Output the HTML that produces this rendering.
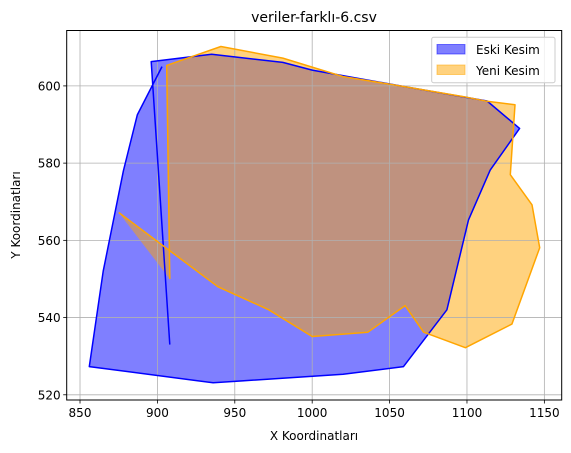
<!DOCTYPE html>
<html><head><meta charset="utf-8"><style>
body{margin:0;background:#fff;}
svg{display:block;font-family:"DejaVu Sans","Liberation Sans",sans-serif;}
</style></head><body>
<svg id="chart" width="571" height="453" viewBox="0 0 571 453" xmlns="http://www.w3.org/2000/svg">
<rect width="571" height="453" fill="#fff"/>
<g id="fills"></g>
<g id="grid"></g>
<g id="plot"></g>
<rect x="66.7" y="30.5" width="495" height="369.5" fill="none" stroke="#000" stroke-width="1"/>
<g id="ticks" font-size="12" fill="#000"></g>
<text x="314" y="22" text-anchor="middle" font-size="14">veriler-farklı-6.csv</text>
<text x="314" y="440" text-anchor="middle" font-size="12">X Koordinatları</text>
<text transform="translate(20,215) rotate(-90)" text-anchor="middle" font-size="12">Y Koordinatları</text>
<g>
<rect x="431.7" y="37.3" width="123.3" height="45.4" rx="2" fill="#fff" fill-opacity="0.8" stroke="#ccc"/>
<rect x="437" y="44.5" width="28" height="9.5" fill="blue" fill-opacity="0.5" stroke="blue" stroke-opacity="0.5"/>
<text x="476" y="54" font-size="12">Eski Kesim</text>
<rect x="437" y="65" width="28" height="9.5" fill="orange" fill-opacity="0.5" stroke="orange" stroke-opacity="0.5"/>
<text x="476" y="75" font-size="12">Yeni Kesim</text>
</g>
</svg>
<script>
const eskiX=[903,887,878,865,856,936,1020,1059,1087,1101,1115,1134,1113,1060,1022,1000,981,935,896,908];
const eskiY=[605,592.5,578,552,527.3,523.1,525.3,527.3,542,565.3,578.2,589,596.1,599.8,602.5,604.1,606.1,608.2,606.3,533];
const yeniX=[908,906,941,981,1020,1060,1098,1113,1131,1128,1142,1147,1129,1099,1072,1060,1036,1000,972,939,875];
const yeniY=[550,605.3,610.2,607.2,602.4,599.8,597.2,596,595.1,577,569.2,558.1,538.3,532.2,536.2,543.1,536.2,535.1,542,548,567.2];
const xTicks=[850,900,950,1000,1050,1100,1150];
const yTicks=[520,540,560,580,600];
const X0=841.4,X1=1161.2,Y0=518.65,Y1=614.35;
const PL=66.7,PR=561.7,PT=30.5,PB=400;
function sx(v){return PL+(v-X0)/(X1-X0)*(PR-PL);}
function sy(v){return PB-(v-Y0)/(Y1-Y0)*(PB-PT);}
const NS="http://www.w3.org/2000/svg";
const grid=document.getElementById('grid'),plot=document.getElementById('plot'),ticks=document.getElementById('ticks'),fills=document.getElementById('fills');
function mk(t,a,p){const e=document.createElementNS(NS,t);for(const k in a)e.setAttribute(k,a[k]);p.appendChild(e);return e;}
xTicks.forEach(v=>{const x=sx(v);
 const g=mk('line',{x1:x,x2:x,y1:PT,y2:PB,stroke:'#b0b0b0','stroke-width':0.8},grid);
 
 
 const t=mk('line',{x1:x,x2:x,y1:PB,y2:PB+3.5,stroke:'#000','stroke-width':0.8},ticks);
 
 
 const l=mk('text',{x:x,y:PB+17,'text-anchor':'middle'},ticks);l.textContent=v;
 
 
});
yTicks.forEach(v=>{const y=sy(v);
 const g=mk('line',{x1:PL,x2:PR,y1:y,y2:y,stroke:'#b0b0b0','stroke-width':0.8},grid);
 
 
 const t=mk('line',{x1:PL-3.5,x2:PL,y1:y,y2:y,stroke:'#000','stroke-width':0.8},ticks);
 
 
 const l=mk('text',{x:PL-6,y:y+4.5,'text-anchor':'end'},ticks);l.textContent=v;
 
 
});
function pts(xs,ys){return xs.map((x,i)=>sx(x).toFixed(1)+','+sy(ys[i]).toFixed(1)).join(' ');}
const f1=mk('polygon',{points:pts(eskiX,eskiY),fill:'blue','fill-opacity':0.5},fills);


const f2=mk('polygon',{points:pts(yeniX,yeniY),fill:'orange','fill-opacity':0.5},fills);


const l1=mk('polyline',{points:pts(eskiX,eskiY),fill:'none',stroke:'blue','stroke-width':1.5,'stroke-linejoin':'round'},plot);


const l2=mk('polyline',{points:pts(yeniX,yeniY),fill:'none',stroke:'orange','stroke-width':1.5,'stroke-linejoin':'round'},plot);


</script>
</body></html>
